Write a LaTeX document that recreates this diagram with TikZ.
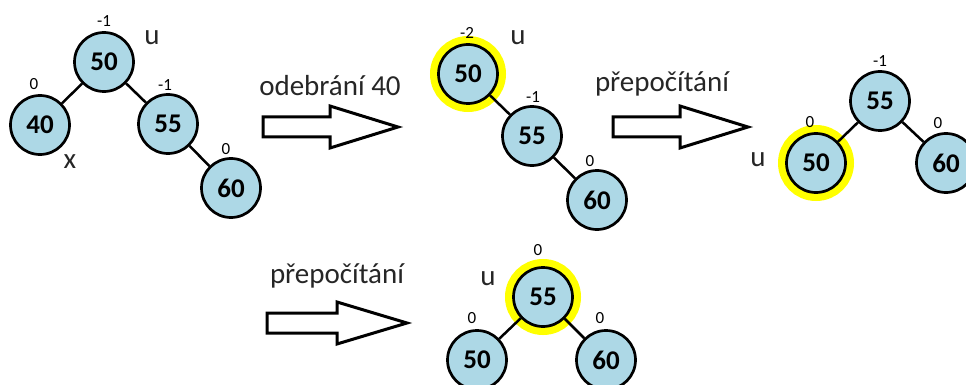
\documentclass[tikz,border=0pt]{standalone}
\usepackage{fontspec}
\setmainfont{Carlito}
\usepackage{tikz}

\definecolor{uzel}{HTML}{ADD8E6}
\definecolor{zluta}{HTML}{FFFF00}

\begin{document}
\begin{tikzpicture}[x=1pt, y=-1pt,
	vrchol/.style={circle, draw, line width=2.7pt, fill=uzel, minimum size=59pt, inner sep=0pt, font=\fontsize{27}{27}\selectfont\bfseries},
	zvyr/.style={preaction={draw=zluta, line width=17pt}},
	hrana/.style={line width=2.5pt},
	bf/.style={inner sep=0pt, font=\fontsize{17}{17}\selectfont},
	popis/.style={inner sep=0pt, font=\fontsize{29}{29}\selectfont, text=black!85},
	sipka/.style={line width=3pt, fill=white, line join=miter}]
	\useasboundingbox (0,0) rectangle (966,385);

	% strom pred odebranim
	\node[vrchol] (A50) at (104,62) {50};
	\node[vrchol] (A40) at (40,125) {40};
	\node[vrchol] (A55) at (168,124) {55};
	\node[vrchol] (A60) at (231,188) {60};
	\draw[hrana] (A50) -- (A40);
	\draw[hrana] (A50) -- (A55);
	\draw[hrana] (A55) -- (A60);
	\node[bf] at (104,21) {-1};
	\node[bf] at (34,84) {0};
	\node[bf] at (165,85) {-1};
	\node[bf] at (226,149) {0};
	\node[popis] at (152,38) {u};
	\node[popis] at (70,162) {x};

	% odebrani
	\node[popis] (T1) at (330,86) {odebrání 40};
	\draw[sipka] (263,117) -- (330,117) -- (330,106) -- (398,127) -- (330,148) -- (330,137) -- (263,137) -- cycle;

	% po odebrani
	\node[vrchol, zvyr] (B50) at (468,74) {50};
	\node[vrchol] (B55) at (532,136) {55};
	\node[vrchol] (B60) at (597,200) {60};
	\draw[hrana] (B50) -- (B55);
	\draw[hrana] (B55) -- (B60);
	\node[bf] at (467,33) {-2};
	\node[bf] at (533,97) {-1};
	\node[bf] at (590,161) {0};
	\node[popis] at (518,38) {u};

	% prepocitani
	\node[popis] (T2) at (662,84) {přepočítání};
	\draw[sipka] (613,117) -- (680,117) -- (680,106) -- (748,127) -- (680,148) -- (680,137) -- (613,137) -- cycle;

	% po rotaci
	\node[vrchol] (C55) at (880,101) {55};
	\node[vrchol, zvyr] (C50) at (816,163) {50};
	\node[vrchol] (C60) at (946,163) {60};
	\draw[hrana] (C55) -- (C50);
	\draw[hrana] (C55) -- (C60);
	\node[bf] at (880,61) {-1};
	\node[bf] at (810,122) {0};
	\node[bf] at (938,123) {0};
	\node[popis] at (758,160) {u};

	% prepocitani
	\node[popis] (T3) at (337,276) {přepočítání};
	\draw[sipka] (267,313) -- (337,313) -- (337,302) -- (407,323) -- (337,344) -- (337,333) -- (267,333) -- cycle;

	% vysledny strom
	\node[vrchol, zvyr] (D55) at (543,297) {55};
	\node[vrchol] (D50) at (477,360) {50};
	\node[vrchol] (D60) at (606,360) {60};
	\draw[hrana] (D55) -- (D50);
	\draw[hrana] (D55) -- (D60);
	\node[bf] at (538,250) {0};
	\node[bf] at (472,318) {0};
	\node[bf] at (600,318) {0};
	\node[popis] at (488,279) {u};
\end{tikzpicture}
\end{document}
